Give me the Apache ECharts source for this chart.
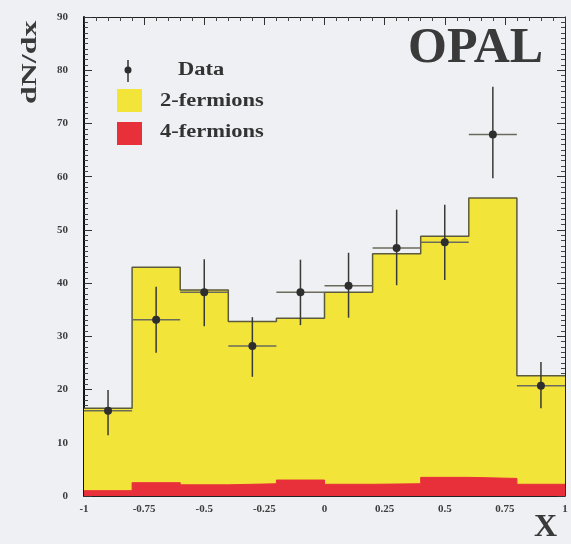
<!DOCTYPE html>
<html>
<head>
<meta charset="utf-8">
<script src="https://cdn.jsdelivr.net/npm/echarts@6/dist/echarts.min.js"></script>
<style>
  html, body { margin: 0; padding: 0; background: #eef0f4; }
  #chart { width: 571px; height: 544px; }
</style>
</head>
<body>
<div id="chart"></div>
<script>
// Histogram bin edges in X
const binEdges = [-1, -0.8, -0.6, -0.4, -0.2, 0, 0.2, 0.4, 0.6, 0.8, 1];
// Expected dN/dx per bin: total (2-fermions + 4-fermions) and the 4-fermion part
const totalMC = [16.5, 43.0, 38.7, 32.8, 33.4, 38.3, 45.5, 48.8, 56.0, 22.6];
const fourFermion = [1.0, 2.5, 2.1, 2.3, 3.0, 2.2, 2.3, 3.5, 3.3, 2.2];
// Measured points with their errors
const dataX = [-0.9, -0.7, -0.5, -0.3, -0.1, 0.1, 0.3, 0.5, 0.7, 0.9];
const dataY = [16.0, 33.1, 38.3, 28.2, 38.3, 39.5, 46.6, 47.7, 67.9, 20.7];
const errLow = [4.6, 6.2, 6.4, 5.8, 6.2, 6.0, 7.0, 7.1, 8.2, 4.2];
const errHigh = [3.9, 6.2, 6.2, 5.4, 6.1, 6.2, 7.2, 7.0, 9.0, 4.5];
const halfWidth = 0.1;
// Tick labels
const xTickLabels = ['-1', '-0.75', '-0.5', '-0.25', '0', '0.25', '0.5', '0.75', '1'];
const yTickLabels = ['0', '10', '20', '30', '40', '50', '60', '70', '80', '90'];

const SERIF = '"Liberation Serif", "DejaVu Serif", serif';

function stepPoints(values) {
  const pts = values.map((v, i) => [binEdges[i], v]);
  pts.push([binEdges[binEdges.length - 1], values[values.length - 1]]);
  return pts;
}

function frameAxis(extra) {
  return Object.assign({
    axisLine: { show: true, onZero: false, lineStyle: { color: '#222', width: 1 } },
    axisTick: { show: true, inside: true, length: 8, lineStyle: { color: '#333', width: 1 } },
    splitLine: { show: false }
  }, extra);
}

const chart = echarts.init(document.getElementById('chart'), null, { renderer: 'canvas' });

chart.setOption({
  backgroundColor: '#eef0f4',
  animation: false,
  grid: { left: 84, right: 6, top: 17, bottom: 48, show: false },
  xAxis: [
    frameAxis({
      type: 'value', min: -1, max: 1, interval: 0.25, position: 'bottom',
      minorTick: { show: true, splitNumber: 5, length: 4, lineStyle: { color: '#444' } },
      axisLabel: {
        show: true, margin: 8, color: '#3c3c3c', fontFamily: SERIF, fontWeight: 'bold', fontSize: 11,
        formatter: v => xTickLabels[Math.round((v + 1) / 0.25)]
      }
    }),
    frameAxis({
      type: 'value', min: -1, max: 1, interval: 0.25, position: 'top',
      minorTick: { show: true, splitNumber: 5, length: 4, lineStyle: { color: '#444' } },
      axisLabel: { show: false }
    })
  ],
  yAxis: [
    frameAxis({
      type: 'value', min: 0, max: 90, interval: 10, position: 'left',
      axisLine: { show: true, onZero: false, lineStyle: { color: '#111', width: 2 } },
      minorTick: { show: true, splitNumber: 10, length: 4, lineStyle: { color: '#444' } },
      axisLabel: {
        show: true, margin: 16, color: '#3c3c3c', fontFamily: SERIF, fontWeight: 'bold', fontSize: 11,
        formatter: v => yTickLabels[Math.round(v / 10)]
      }
    }),
    frameAxis({
      type: 'value', min: 0, max: 90, interval: 10, position: 'right',
      minorTick: { show: true, splitNumber: 10, length: 4, lineStyle: { color: '#444' } },
      axisLabel: { show: false }
    })
  ],
  series: [
    {
      name: '2-fermions', type: 'line', step: 'end', symbol: 'none',
      data: stepPoints(totalMC), z: 2,
      lineStyle: { color: '#5b5a3c', width: 1.5 },
      areaStyle: { color: '#f3e43a', opacity: 1 }
    },
    {
      name: '4-fermions', type: 'line', step: 'end', symbol: 'none',
      data: stepPoints(fourFermion), z: 3,
      lineStyle: { color: '#e8303a', width: 1 },
      areaStyle: { color: '#e8303a', opacity: 1 }
    },
    {
      name: 'Data', type: 'custom', z: 5,
      data: dataX.map((x, i) => [x, dataY[i], errLow[i], errHigh[i]]),
      renderItem: function (params, api) {
        const x = api.value(0), y = api.value(1), lo = api.value(2), hi = api.value(3);
        const c = api.coord([x, y]);
        const l = api.coord([x - halfWidth, y]);
        const r = api.coord([x + halfWidth, y]);
        const t = api.coord([x, y + hi]);
        const b = api.coord([x, y - lo]);
        return {
          type: 'group',
          children: [
            { type: 'line', shape: { x1: l[0], y1: l[1], x2: r[0], y2: r[1] },
              style: { stroke: '#6b6b5c', lineWidth: 1.5 } },
            { type: 'line', shape: { x1: t[0], y1: t[1], x2: b[0], y2: b[1] },
              style: { stroke: '#3a3a34', lineWidth: 1.5 } },
            { type: 'circle', shape: { cx: c[0], cy: c[1], r: 4 },
              style: { fill: '#2e2e2e' } }
          ]
        };
      }
    }
  ],
  graphic: [
    // OPAL label
    { type: 'text', left: 408, top: 24, z: 10,
      style: { text: 'OPAL', fill: '#3a3a3a', font: 'bold 50px ' + SERIF } },
    // Y axis title, reading bottom to top
    { type: 'text', x: 19, y: 104, rotation: Math.PI / 2, scaleX: 1.45, z: 10,
      style: { text: 'dN/dx', fill: '#3a3a3a', font: 'bold 22px ' + SERIF, textVerticalAlign: 'top' } },
    // X axis title
    { type: 'text', left: 534, top: 512, z: 10,
      style: { text: 'X', fill: '#3a3a3a', font: 'bold 32px ' + SERIF } },
    // Legend: Data marker
    { type: 'line', shape: { x1: 128, y1: 60, x2: 128, y2: 82 }, z: 10,
      style: { stroke: '#333', lineWidth: 1.5 } },
    { type: 'circle', shape: { cx: 128, cy: 70, r: 3.5 }, z: 10, style: { fill: '#2e2e2e' } },
    { type: 'text', x: 178, y: 70, scaleX: 1.25, z: 10,
      style: { text: 'Data', fill: '#333', font: 'bold 18px ' + SERIF, textVerticalAlign: 'middle' } },
    // Legend: 2-fermions
    { type: 'rect', shape: { x: 117, y: 89, width: 25, height: 23 }, z: 10,
      style: { fill: '#f3e43a' } },
    { type: 'text', x: 160, y: 101, scaleX: 1.25, z: 10,
      style: { text: '2-fermions', fill: '#333', font: 'bold 18px ' + SERIF, textVerticalAlign: 'middle' } },
    // Legend: 4-fermions
    { type: 'rect', shape: { x: 117, y: 122, width: 25, height: 23 }, z: 10,
      style: { fill: '#e8303a' } },
    { type: 'text', x: 160, y: 132, scaleX: 1.25, z: 10,
      style: { text: '4-fermions', fill: '#333', font: 'bold 18px ' + SERIF, textVerticalAlign: 'middle' } }
  ]
});
</script>
</body>
</html>
